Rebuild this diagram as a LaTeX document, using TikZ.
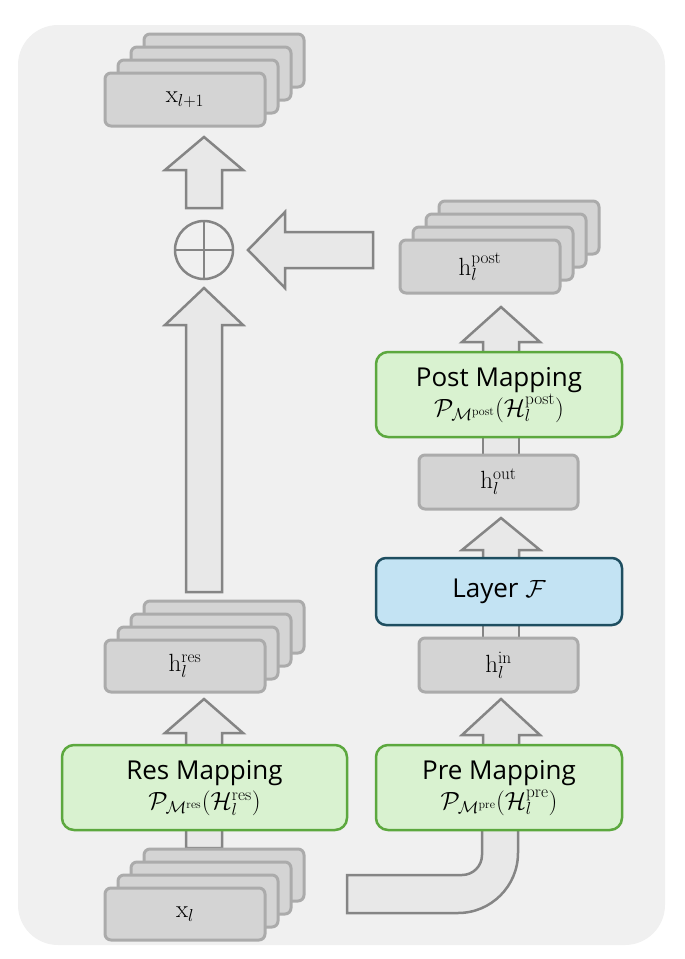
\documentclass[tikz,border=0pt]{standalone}
\usepackage[no-math]{fontspec}
\setmainfont{Open Sans}
\definecolor{gfill}{HTML}{D9F2D0}
\definecolor{gdraw}{HTML}{5CA83E}
\definecolor{bfill}{HTML}{C3E3F3}
\definecolor{bdraw}{HTML}{1E4E60}
\begin{document}
\begin{tikzpicture}[x=1pt,y=-1pt,
  arr/.style={fill=black!9,draw=black!48,line width=2.5pt,line join=miter},
  gbox/.style={fill=black!17,draw=black!33,line width=3pt,rounded corners=6pt},
  green/.style={fill=gfill,draw=gdraw,line width=2.5pt,rounded corners=12pt},
  blue/.style={fill=bfill,draw=bdraw,line width=2.5pt,rounded corners=10pt},
  lab/.style={font=\fontsize{26}{32}\selectfont}]
\useasboundingbox (0,0) rectangle (685,959);
\fill[black!6,rounded corners=40pt] (18,25) rectangle (665,945);
\newcommand{\stackbox}[5]{%
  \foreach \k in {3,2,1}{\draw[gbox] (#2+13*\k,#3-13*\k) rectangle (#4+13*\k,#5-13*\k);}
  \draw[gbox] (#2,#3) rectangle (#4,#5);
  \coordinate (#1) at ({(#2+#4)/2},{(#3+#5)/2});}
\newcommand{\uparr}[4]{%
  \draw[arr] (#1,#2) -- (#1+39,#3) -- (#1+18,#3) -- (#1+18,#4) -- (#1-18,#4) -- (#1-18,#3) -- (#1-39,#3) -- cycle;}
\uparr{204}{137}{170}{208}
\uparr{204}{288}{325}{592}
\uparr{204}{699}{733}{848}
\uparr{501}{307}{342}{355}
\uparr{501}{518}{550}{560}
\uparr{501}{699}{735}{748}
\draw[arr] (483,437) rectangle (519,458);
\draw[arr] (483,625) rectangle (519,640);
\draw[arr] (248,250) -- (285,212) -- (285,232) -- (373,232) -- (373,268) -- (285,268) -- (285,288) -- cycle;
\draw[arr] (482,828) -- (482,855) arc[start angle=0,end angle=90,radius=20] -- (347,875) -- (347,913) -- (458,913) arc[start angle=90,end angle=0,radius=60] -- (518,828);
\node[circle,draw=black!48,line width=2.5pt,minimum size=58pt,inner sep=0pt] (plus) at (204,250) {};
\draw[black!48,line width=2.5pt] (plus.north) -- (plus.south) (plus.west) -- (plus.east);
\stackbox{xl1}{105}{73}{265}{126}
\node[lab] at (xl1) {$\mathrm{x}_{l+1}$};
\stackbox{hres}{105}{640}{265}{692}
\node[lab] at (hres) {$\mathrm{h}_l^{\mathrm{res}}$};
\stackbox{xl}{105}{888}{265}{940}
\node[lab] at (xl) {$\mathrm{x}_l$};
\stackbox{hpost}{400}{240}{560}{293}
\node[lab] at (hpost) {$\mathrm{h}_l^{\mathrm{post}}$};
\draw[gbox] (419,455) rectangle (578,509);
\node[lab] (hout) at (498.5,482) {$\mathrm{h}_l^{\mathrm{out}}$};
\draw[gbox] (419,638) rectangle (578,692);
\node[lab] (hin) at (498.5,665) {$\mathrm{h}_l^{\mathrm{in}}$};
\draw[green] (62,745) rectangle (347,830);
\node[lab,align=center] (res) at (204.5,788) {Res Mapping\\[-2pt]$\mathcal{P}_{\mathcal{M}^{\mathrm{res}}}(\mathcal{H}_l^{\mathrm{res}})$};
\draw[green] (376,745) rectangle (622,830);
\node[lab,align=center] (pre) at (499,788) {Pre Mapping\\[-2pt]$\mathcal{P}_{\mathcal{M}^{\mathrm{pre}}}(\mathcal{H}_l^{\mathrm{pre}})$};
\draw[green] (376,352) rectangle (622,437);
\node[lab,align=center] (post) at (499,395) {Post Mapping\\[-2pt]$\mathcal{P}_{\mathcal{M}^{\mathrm{post}}}(\mathcal{H}_l^{\mathrm{post}})$};
\draw[blue] (376,558) rectangle (622,625);
\node[lab] (layer) at (499,591) {Layer $\mathcal{F}$};
\end{tikzpicture}
\end{document}
